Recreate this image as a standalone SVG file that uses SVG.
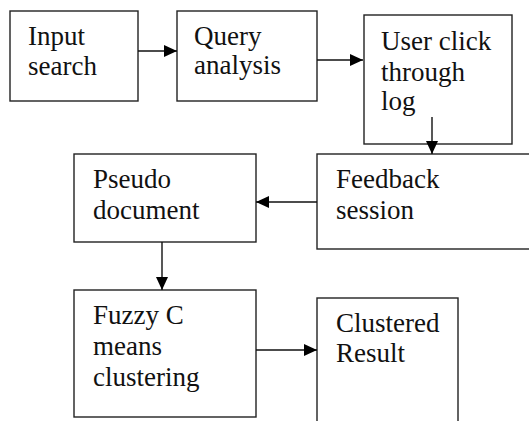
<svg xmlns="http://www.w3.org/2000/svg" width="529" height="421" viewBox="0 0 529 421">
<style>
.box{fill:#fff;stroke:#222;stroke-width:1.4}
.lbl{font-family:"Liberation Serif","Times New Roman",serif;font-size:27px;fill:#111}
.edge{stroke:#111;stroke-width:1.4;fill:none}
</style>
<defs>
<marker id="ah" markerWidth="13" markerHeight="12" refX="13" refY="6" orient="auto" markerUnits="userSpaceOnUse">
<path d="M0,0 L13,6 L0,12 Z" fill="#000"/>
</marker>
</defs>
<rect width="529" height="421" fill="#fff"/>
<g id="n1"><rect class="box" x="10" y="11" width="128" height="90"/>
<text class="lbl" x="28" y="45">Input</text><text class="lbl" x="28" y="75">search</text></g>
<g id="n2"><rect class="box" x="177" y="11" width="140" height="90"/>
<text class="lbl" x="194" y="45">Query</text><text class="lbl" x="194" y="74">analysis</text></g>
<g id="n3"><rect class="box" x="364" y="15" width="148" height="129"/>
<text class="lbl" x="381" y="50">User click</text><text class="lbl" x="381" y="81">through</text><text class="lbl" x="381" y="110">log</text></g>
<g id="n4"><rect class="box" x="74" y="154" width="182" height="88"/>
<text class="lbl" x="93" y="188">Pseudo</text><text class="lbl" x="93" y="219">document</text></g>
<g id="n5"><rect class="box" x="317" y="154" width="215" height="95"/>
<text class="lbl" x="336" y="188">Feedback</text><text class="lbl" x="336" y="219">session</text></g>
<g id="n6"><rect class="box" x="74" y="290" width="182" height="127"/>
<text class="lbl" x="93" y="324">Fuzzy C</text><text class="lbl" x="93" y="355">means</text><text class="lbl" x="93" y="386">clustering</text></g>
<g id="n7"><rect class="box" x="317" y="298" width="141" height="130"/>
<text class="lbl" x="336" y="332">Clustered</text><text class="lbl" x="336" y="362">Result</text></g>
<g id="edges">
<line class="edge" x1="138" y1="51" x2="177" y2="51" marker-end="url(#ah)"/>
<line class="edge" x1="317" y1="60" x2="363" y2="60" marker-end="url(#ah)"/>
<line class="edge" x1="432" y1="117" x2="432" y2="154" marker-end="url(#ah)"/>
<line class="edge" x1="317" y1="202" x2="256" y2="202" marker-end="url(#ah)"/>
<line class="edge" x1="162" y1="242" x2="162" y2="290" marker-end="url(#ah)"/>
<line class="edge" x1="256" y1="350" x2="317" y2="350" marker-end="url(#ah)"/>
</g>
</svg>
